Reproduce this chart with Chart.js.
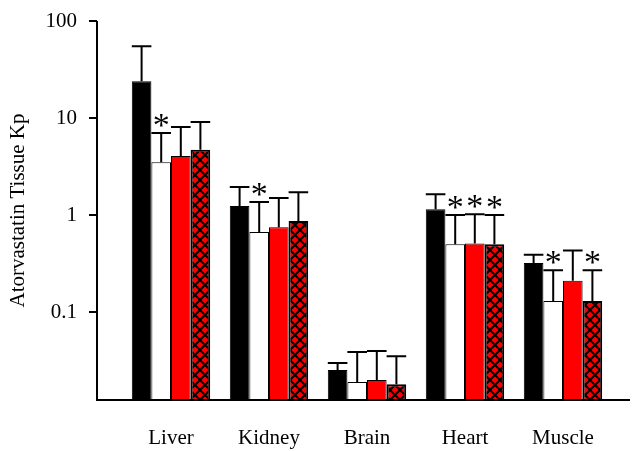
<!DOCTYPE html>
<html><head><meta charset="utf-8">
<script src="https://cdn.jsdelivr.net/npm/chart.js@4"></script>
<style>body{margin:0;background:#fff}#wrap{width:632px;height:451px}</style>
</head><body><div id="wrap"><canvas id="c"></canvas></div>
<script>
const categories = ['Liver', 'Kidney', 'Brain', 'Heart', 'Muscle'];
const blackVals = [24, 1.24, 0.0252, 1.15, 0.32];
const blackErr = [55, 1.95, 0.0298, 1.64, 0.39];
const whiteVals = [3.5, 0.67, 0.019, 0.50, 0.13];
const whiteErr = [7, 1.36, 0.0387, 1.0, 0.27];
const redVals = [4.05, 0.75, 0.0199, 0.51, 0.21];
const redErr = [8.1, 1.5, 0.0397, 1.02, 0.43];
const hatchVals = [4.7, 0.87, 0.018, 0.50, 0.13];
const hatchErr = [9.1, 1.72, 0.035, 1.0, 0.27];
// which bars carry an asterisk [series][category]
const stars = [
  [0, 0, 0, 0, 0],
  [1, 1, 0, 1, 1],
  [0, 0, 0, 1, 0],
  [0, 0, 0, 1, 1]
];
const yTicks = [0.1, 1, 10, 100];

function hatch() {
  const p = document.createElement('canvas');
  p.width = 10; p.height = 10;
  const g = p.getContext('2d');
  g.fillStyle = '#ff0000'; g.fillRect(0, 0, 10, 10);
  g.strokeStyle = '#000'; g.lineWidth = 2;
  g.beginPath();
  g.moveTo(-1, -1); g.lineTo(11, 11);
  g.moveTo(11, -1); g.lineTo(-1, 11);
  g.stroke();
  return g.createPattern(p, 'repeat');
}

const errs = [blackErr, whiteErr, redErr, hatchErr];
const AXIS_GAP = 25; // y axis line sits left of the first group

const errPlugin = {
  id: 'err',
  afterDatasetsDraw(chart) {
    const ctx = chart.ctx, y = chart.scales.y, a = chart.chartArea;
    ctx.save();
    ctx.strokeStyle = '#000'; ctx.lineWidth = 2;
    ctx.fillStyle = '#000';
    ctx.font = '34px "Liberation Serif"';
    ctx.textAlign = 'center';
    chart.data.datasets.forEach((ds, i) => {
      chart.getDatasetMeta(i).data.forEach((bar, j) => {
        const top = y.getPixelForValue(errs[i][j]);
        const hw = bar.width / 2;
        ctx.beginPath();
        ctx.moveTo(bar.x, bar.y); ctx.lineTo(bar.x, top);
        ctx.moveTo(bar.x - hw, top); ctx.lineTo(bar.x + hw, top);
        ctx.stroke();
        if (stars[i][j]) ctx.fillText('*', bar.x, top + 3);
      });
    });
    // axes, tick marks and tick labels
    const ax = a.left - AXIS_GAP;
    ctx.lineWidth = 2;
    ctx.beginPath();
    ctx.moveTo(ax, a.top); ctx.lineTo(ax, a.bottom);
    ctx.lineTo(a.right + 18, a.bottom);
    ctx.font = '21px "Liberation Serif"';
    ctx.textAlign = 'right';
    ctx.textBaseline = 'middle';
    yTicks.forEach(v => {
      const py = y.getPixelForValue(v);
      ctx.moveTo(ax - 8, py); ctx.lineTo(ax, py);
      ctx.fillText(String(v), ax - 20, py);
    });
    ctx.stroke();
    ctx.restore();
  }
};

new Chart(document.getElementById('c'), {
  type: 'bar',
  data: {
    labels: categories,
    datasets: [
      { data: blackVals, backgroundColor: '#000', borderColor: '#000', borderWidth: 1 },
      { data: whiteVals, backgroundColor: '#fff', borderColor: '#000', borderWidth: 1 },
      { data: redVals, backgroundColor: '#ff0000', borderColor: '#000', borderWidth: 1 },
      { data: hatchVals, backgroundColor: hatch(), borderColor: '#000', borderWidth: 2 }
    ]
  },
  options: {
    responsive: true, maintainAspectRatio: false, animation: false,
    layout: { padding: { top: 21, right: 20, bottom: 0, left: 0 } },
    datasets: { bar: { categoryPercentage: 0.8, barPercentage: 1 } },
    plugins: { legend: { display: false }, tooltip: { enabled: false } },
    scales: {
      x: {
        afterFit: s => { s.height = 51; },
        grid: { display: false, drawTicks: false },
        border: { display: false },
        ticks: { color: '#000', font: { family: 'Liberation Serif', size: 21 }, padding: 26 }
      },
      y: {
        type: 'logarithmic', min: 0.0124, max: 100,
        afterFit: s => { s.width = 122; },
        afterBuildTicks: s => { s.ticks = yTicks.map(v => ({ value: v })); },
        grid: { display: false, drawTicks: false },
        border: { display: false },
        title: { display: true, text: 'Atorvastatin Tissue Kp', color: '#000', font: { family: 'Liberation Serif', size: 21 }, padding: { top: 6, bottom: 8 } },
        ticks: { display: false }
      }
    }
  },
  plugins: [errPlugin]
});
</script></body></html>
